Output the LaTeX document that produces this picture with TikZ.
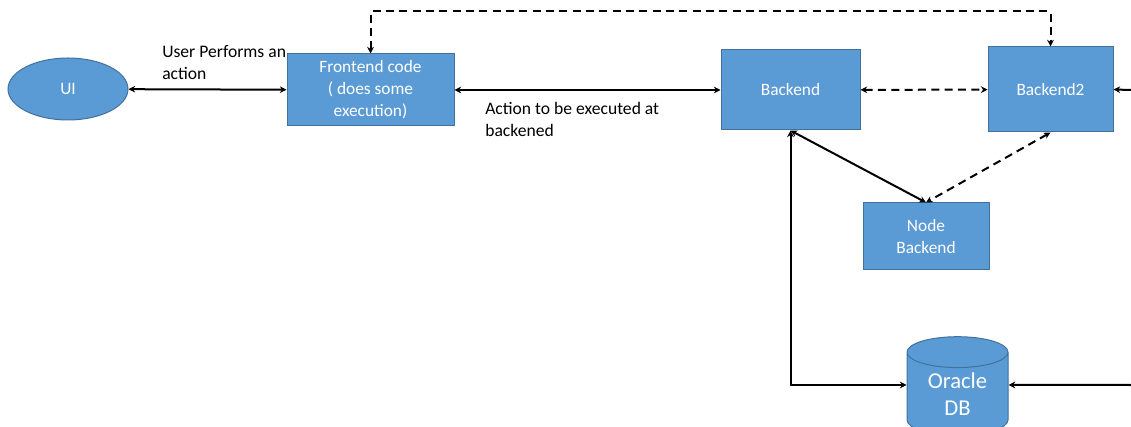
\documentclass[tikz,border=0pt]{standalone}
\usepackage{fontspec}
\setmainfont{Carlito}
\usetikzlibrary{shapes.geometric,arrows.meta}
\definecolor{boxblue}{HTML}{5B9BD5}
\definecolor{boxline}{HTML}{41719C}

\begin{document}
\begin{tikzpicture}[x=0.75pt,y=-0.75pt,>={Stealth[length=5pt,width=5pt]},
    box/.style={draw=boxline,fill=boxblue,text=white,align=center,line width=0.75pt,
      font=\fontsize{13}{16.5}\selectfont,inner sep=0pt},
    lbl/.style={align=left,inner sep=0pt,font=\fontsize{13.2}{16.5}\selectfont},
    link/.style={line width=1.5pt},
    dlink/.style={line width=1.5pt,dash pattern=on 6pt off 4pt}]
    \useasboundingbox (0,0) rectangle (1131,427);
    \clip (0,0) rectangle (1131,427);
    \node[box,ellipse,minimum width=90pt,minimum height=46.5pt] (ui) at (68,89) {UI};
    \node[box,minimum width=125.25pt,minimum height=54pt] (fe) at (370.5,90) {Frontend code\\( does some\\execution)};
    \node[box,minimum width=104.25pt,minimum height=60pt] (be) at (790.5,90) {Backend};
    \node[box,minimum width=93.75pt,minimum height=63.75pt] (b2) at (1050.5,89.5) {Backend2};
    \node[box,minimum width=94.5pt,minimum height=50.25pt] (nb) at (926,236.5) {Node\\Backend};
    \node[box,cylinder,shape border rotate=90,aspect=0.52,minimum width=75.75pt,minimum height=74pt,
      font=\fontsize{17}{20.5}\selectfont] (db) at (957.5,394) {Oracle\\DB};
    \coordinate (r1) at (1131,90);
    \coordinate (r2) at (1131,385);
    \node[lbl,anchor=north west] (l1) at (162,45) {User Performs an\\action};
    \node[lbl,anchor=north west] (l2) at (485,102) {Action to be executed at\\backened};
    \draw[link,<->] (ui) -- (fe);
    \draw[link,<->] (fe) -- (be);
    \draw[dlink,<->] (fe.north) -- ++(0,-42) -| (b2.north);
    \draw[dlink,<->] (be) -- (b2);
    \draw[link,->] (r1) -- (b2.east);
    \draw[link,<->] (be.south) -- (nb.north);
    \draw[dlink,<->] (b2.south) -- (nb.north);
    \draw[link,<->] (be.south) |- ([yshift=6.75pt]db.west);
    \draw[link,->] (r2) -- ([yshift=6.75pt]db.east);
\end{tikzpicture}
\end{document}
